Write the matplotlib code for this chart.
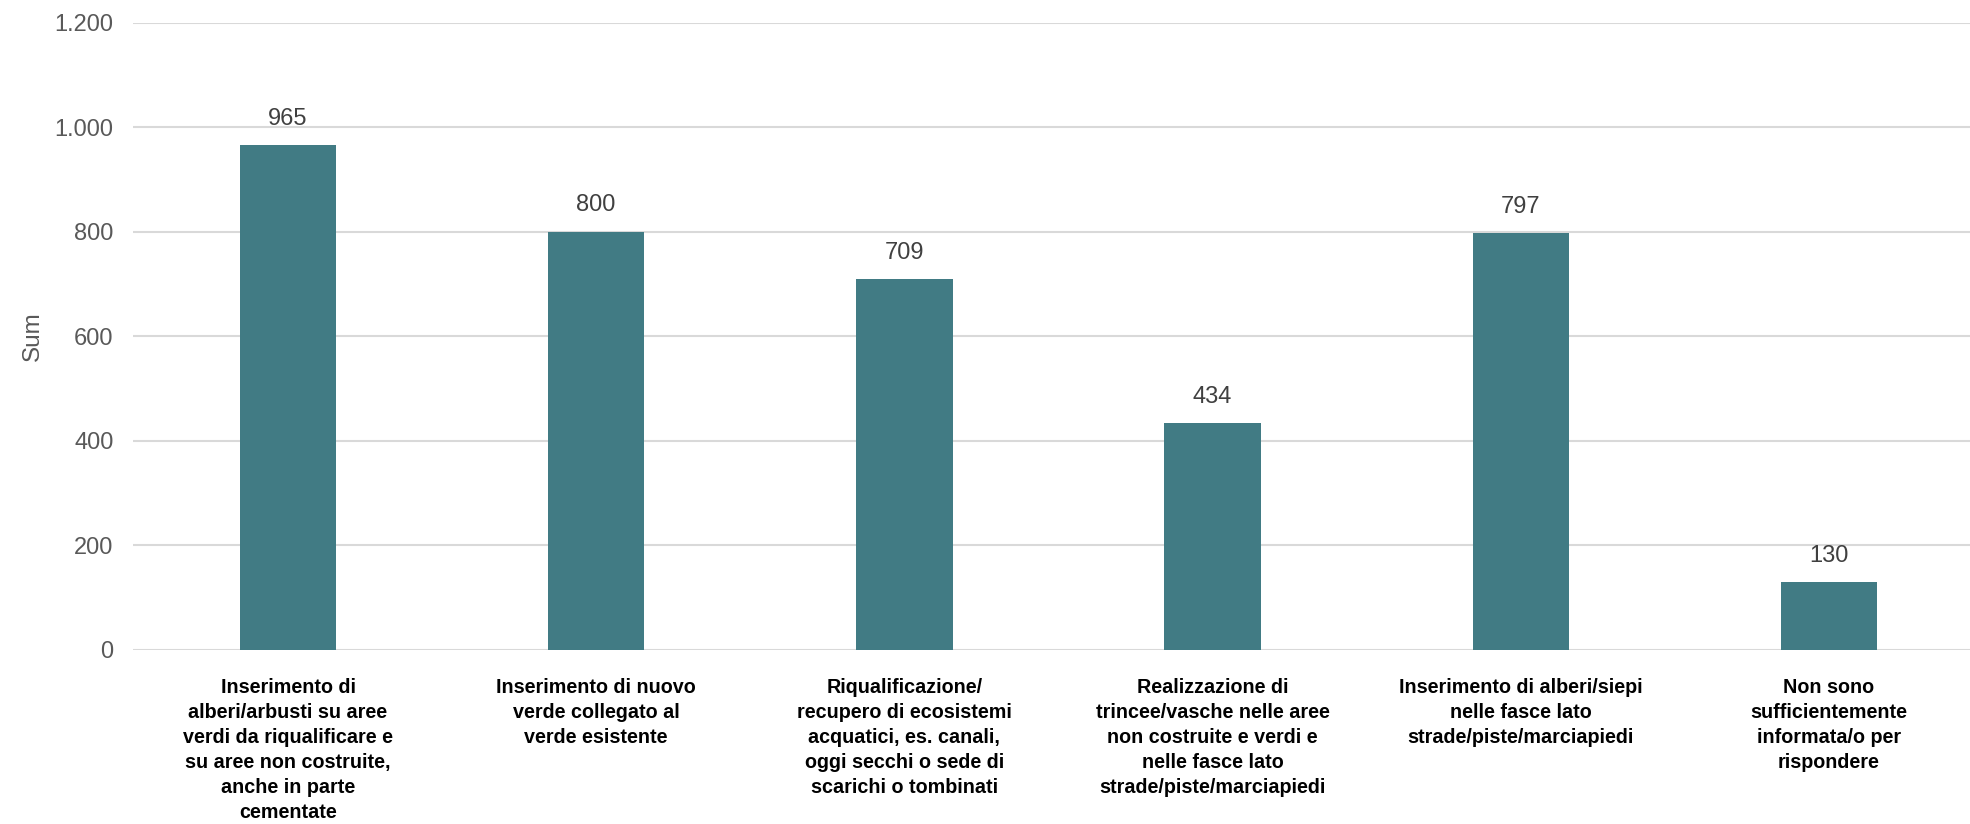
import matplotlib.pyplot as plt
from matplotlib.ticker import FuncFormatter

# --- Data ---
categories = [
    "Inserimento di\nalberi/arbusti su aree\nverdi da riqualificare e\nsu aree non costruite,\nanche in parte\ncementate",
    "Inserimento di nuovo\nverde collegato al\nverde esistente",
    "Riqualificazione/\nrecupero di ecosistemi\nacquatici, es. canali,\noggi secchi o sede di\nscarichi o tombinati",
    "Realizzazione di\ntrincee/vasche nelle aree\nnon costruite e verdi e\nnelle fasce lato\nstrade/piste/marciapiedi",
    "Inserimento di alberi/siepi\nnelle fasce lato\nstrade/piste/marciapiedi",
    "Non sono\nsufficientemente\ninformata/o per\nrispondere",
]
values = [965, 800, 709, 434, 797, 130]
y_ticks = [0, 200, 400, 600, 800, 1000, 1200]

BAR_COLOR = '#417b84'
GRID_COLOR = '#d9d9d9'
TEXT_COLOR = '#595959'

plt.rcParams['font.family'] = ['Liberation Sans', 'DejaVu Sans']

fig = plt.figure(figsize=(19.7, 8.24), dpi=100)
# axes: x from 133px to the right edge, y from 650px (0) up to 22.6px (1200)
ax = fig.add_axes([133 / 1970, 1 - 650 / 824, 1 - 133 / 1970, (650 - 22.6) / 824])

x = range(len(categories))
bars = ax.bar(x, values, width=0.3125, color=BAR_COLOR, zorder=3)
ax.bar_label(bars, labels=[str(v) for v in values], padding=11,
             fontsize=17, color='#404040')

ax.set_xlim(-0.503, 5.458)
ax.set_ylim(0, 1200)
ax.set_yticks(y_ticks)
ax.yaxis.set_major_formatter(FuncFormatter(lambda v, p: f"{int(v):,}".replace(",", ".")))
ax.grid(axis='y', color=GRID_COLOR, linewidth=1.5, zorder=0)
ax.set_axisbelow(True)

ax.set_xticks(list(x))
ax.set_xticklabels(categories, fontsize=14.2, fontweight='bold', color='black',
                   linespacing=1.4, va='top')
ax.tick_params(axis='x', length=0, pad=20)
ax.tick_params(axis='y', length=0, pad=14, labelsize=17, labelcolor=TEXT_COLOR)

ax.set_ylabel('Sum', fontsize=17.5, color=TEXT_COLOR, labelpad=8)

for s in ax.spines.values():
    s.set_visible(False)

fig.savefig('out.png', dpi=100)
